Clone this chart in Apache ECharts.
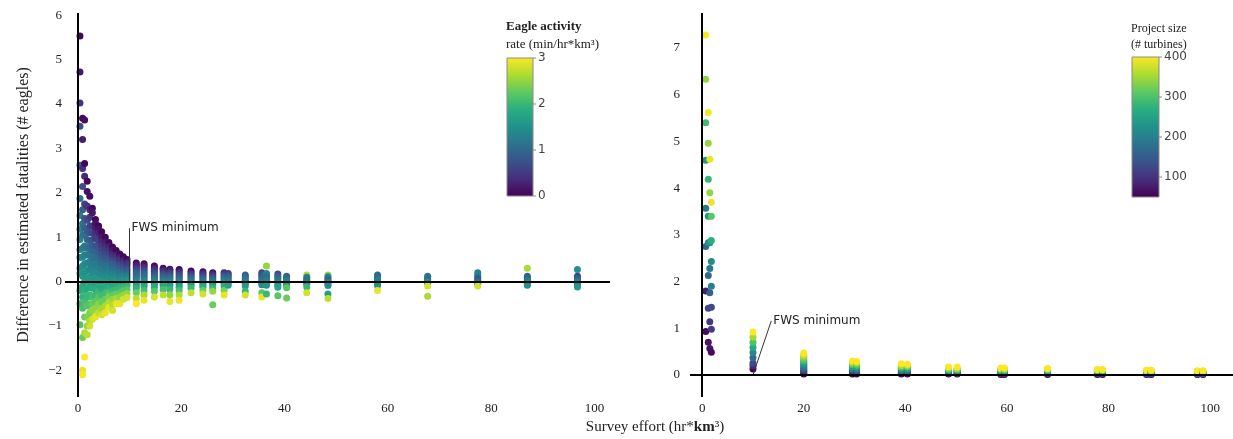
<!DOCTYPE html>
<html>
<head>
<meta charset="utf-8">
<script src="https://cdn.jsdelivr.net/npm/echarts@6/dist/echarts.min.js"></script>
<style>
  html, body { margin: 0; padding: 0; background: #fff; }
  #chart { width: 1233px; height: 439px; }
</style>
</head>
<body>
<div id="chart"></div>
<script>
// ---- left panel: survey effort vs difference, coloured by eagle activity rate
const leftEffort = [0.4, 0.9, 1.3, 1.8, 2.3, 2.8, 3.4, 4.0, 4.6, 5.3, 6.0, 6.7, 7.4, 8.1, 8.8, 9.5,
  11.3, 12.8, 14.8, 16.5, 17.8, 19.6, 21.9, 24.2, 26.1, 28.3, 29.1, 32.4, 35.6, 36.5, 38.7, 40.4,
  44.3, 48.4, 58.0, 67.7, 77.4, 87.0, 96.7]

const leftDiff = [
  [5.53, 4.72, 4.02, 3.5, 2.62, 1.87, 1.49, 1.18, 0.95, 0.72, 0.54, 0.3, 0.18, -0.2, -0.5, -0.97],
  [3.68, 3.2, 2.55, 2.14, 1.62, 1.3, 1.05, 0.75, 0.55, 0.35, 0.12, -0.1, -0.35, -0.6, -1.26, -2.0, -2.1],
  [3.64, 2.66, 2.37, 1.75, 1.42, 1.2, 1.05, 0.8, 0.6, 0.4, 0.2, 0.0, -0.2, -0.45, -0.8, -1.15, -1.7],
  [2.26, 2.03, 1.7, 1.38, 1.15, 0.95, 0.75, 0.6, 0.42, 0.25, 0.05, -0.15, -0.35, -0.55, -0.8, -1.0, -1.2],
  [1.92, 1.62, 1.45, 1.25, 1.1, 0.92, 0.8, 0.62, 0.45, 0.28, 0.1, -0.1, -0.3, -0.5, -0.7, -0.88, -1.0],
  [1.65, 1.55, 1.25, 1.1, 0.95, 0.8, 0.7, 0.52, 0.35, 0.2, 0.05, -0.15, -0.35, -0.5, -0.65, -0.85],
  [1.4, 1.3, 1.2, 1.08, 0.98, 0.8, 0.68, 0.55, 0.4, 0.25, 0.1, -0.05, -0.18, -0.3, -0.45, -0.6, -0.8],
  [1.25, 1.18, 1.1, 0.9, 0.78, 0.65, 0.52, 0.42, 0.3, 0.2, 0.05, -0.1, -0.22, -0.35, -0.5, -0.7],
  [1.12, 1.0, 0.9, 0.8, 0.7, 0.6, 0.5, 0.4, 0.28, 0.15, 0.02, -0.15, -0.3, -0.45, -0.6, -0.75],
  [1.0, 0.88, 0.8, 0.72, 0.62, 0.55, 0.45, 0.35, 0.22, 0.12, 0.0, -0.1, -0.25, -0.4, -0.55, -0.7],
  [0.88, 0.78, 0.7, 0.62, 0.52, 0.45, 0.36, 0.28, 0.18, 0.08, -0.04, -0.15, -0.25, -0.35, -0.47, -0.58],
  [0.78, 0.7, 0.62, 0.55, 0.47, 0.4, 0.3, 0.22, 0.14, 0.05, -0.07, -0.2, -0.3, -0.4, -0.52, -0.65],
  [0.7, 0.6, 0.54, 0.48, 0.42, 0.35, 0.28, 0.2, 0.12, 0.02, -0.08, -0.18, -0.28, -0.38, -0.5],
  [0.62, 0.55, 0.5, 0.45, 0.38, 0.3, 0.22, 0.15, 0.08, 0.0, -0.08, -0.15, -0.25, -0.35, -0.5],
  [0.56, 0.48, 0.43, 0.38, 0.32, 0.26, 0.19, 0.12, 0.04, -0.05, -0.12, -0.2, -0.3, -0.4],
  [0.5, 0.44, 0.4, 0.35, 0.28, 0.22, 0.16, 0.1, 0.03, -0.05, -0.1, -0.18, -0.27, -0.36],
  [0.42, 0.38, 0.34, 0.3, 0.26, 0.22, 0.18, 0.14, 0.1, 0.05, 0.0, -0.05, -0.1, -0.16, -0.25, -0.38, -0.5],
  [0.4, 0.36, 0.32, 0.28, 0.24, 0.2, 0.16, 0.12, 0.08, 0.03, -0.02, -0.07, -0.12, -0.2, -0.3, -0.42],
  [0.35, 0.31, 0.27, 0.23, 0.19, 0.15, 0.11, 0.07, 0.03, -0.02, -0.07, -0.13, -0.22, -0.35],
  [0.3, 0.27, 0.24, 0.2, 0.16, 0.12, 0.08, 0.04, 0.0, -0.05, -0.1, -0.18, -0.3],
  [0.28, 0.25, 0.21, 0.17, 0.13, 0.09, 0.05, 0.0, -0.05, -0.1, -0.18, -0.3, -0.45],
  [0.27, 0.23, 0.19, 0.15, 0.11, 0.07, 0.03, -0.02, -0.07, -0.13, -0.2, -0.3, -0.42],
  [0.24, 0.2, 0.16, 0.12, 0.08, 0.04, 0.0, -0.04, -0.09, -0.15, -0.25],
  [0.22, 0.18, 0.14, 0.1, 0.06, 0.02, -0.03, -0.08, -0.13, -0.2, -0.28],
  [0.2, 0.16, 0.12, 0.08, 0.04, 0.0, -0.04, -0.09, -0.15, -0.22, -0.52],
  [0.2, 0.16, 0.12, 0.08, 0.04, 0.0, -0.04, -0.1, -0.2, -0.3],
  [0.18, 0.13, 0.08, 0.03, -0.02, -0.08],
  [0.15, 0.11, 0.07, 0.03, -0.01, -0.05, -0.1, -0.22, -0.3],
  [0.2, 0.16, 0.12, 0.07, 0.02, -0.03, -0.07, -0.25, -0.35],
  [0.35, 0.18, 0.13, 0.08, 0.03, -0.02, -0.08, -0.28],
  [0.17, 0.12, 0.07, 0.02, -0.03, -0.08, -0.13, -0.32],
  [0.12, 0.08, 0.04, 0.0, -0.04, -0.09, -0.14, -0.37],
  [0.15, 0.1, 0.06, 0.02, -0.02, -0.06, -0.12, -0.25],
  [0.15, 0.11, 0.07, 0.03, -0.01, -0.05, -0.09, -0.28, -0.38],
  [0.15, 0.11, 0.07, 0.03, -0.01, -0.05, -0.09, -0.2],
  [0.12, 0.08, 0.04, 0.0, -0.04, -0.1, -0.33],
  [0.2, 0.15, 0.1, 0.06, 0.02, -0.02, -0.06, -0.1],
  [0.3, 0.12, 0.08, 0.04, 0.0, -0.04, -0.08],
  [0.27, 0.12, 0.08, 0.04, 0.0, -0.04, -0.08, -0.12]
]

const leftRate = [
  [0.05, 0.2, 0.45, 0.7, 0.95, 1.15, 1.3, 1.35, 1.4, 1.45, 1.5, 1.55, 1.6, 1.8, 2.0, 2.2],
  [0.05, 0.25, 0.4, 0.7, 0.9, 1.1, 1.2, 1.3, 1.4, 1.5, 1.6, 1.8, 1.95, 2.1, 2.3, 2.9, 3.0],
  [0.1, 0.05, 0.35, 0.6, 0.8, 0.95, 1.1, 1.2, 1.3, 1.4, 1.5, 1.65, 1.9, 2.1, 2.3, 2.6, 3.0],
  [0.05, 0.15, 0.45, 0.7, 0.85, 1.0, 1.15, 1.25, 1.35, 1.5, 1.6, 1.8, 2.0, 2.2, 2.4, 2.5, 2.7],
  [0.1, 0.3, 0.5, 0.65, 0.8, 0.95, 1.1, 1.2, 1.3, 1.4, 1.6, 1.8, 2.0, 2.2, 2.4, 2.6, 2.8],
  [0.05, 0.2, 0.5, 0.65, 0.8, 0.9, 1.0, 1.15, 1.3, 1.45, 1.6, 1.85, 2.1, 2.3, 2.5, 2.8],
  [0.05, 0.15, 0.25, 0.4, 0.55, 0.8, 0.95, 1.1, 1.25, 1.4, 1.55, 1.7, 1.85, 2.0, 2.25, 2.5, 2.9],
  [0.05, 0.15, 0.3, 0.6, 0.75, 0.9, 1.05, 1.2, 1.3, 1.4, 1.6, 1.8, 2.0, 2.2, 2.45, 2.7],
  [0.05, 0.2, 0.35, 0.5, 0.65, 0.8, 0.95, 1.1, 1.25, 1.4, 1.6, 1.8, 2.05, 2.3, 2.55, 2.8],
  [0.05, 0.25, 0.35, 0.5, 0.65, 0.8, 0.95, 1.1, 1.25, 1.4, 1.6, 1.8, 2.05, 2.3, 2.6, 2.9],
  [0.05, 0.3, 0.45, 0.6, 0.75, 0.9, 1.05, 1.2, 1.35, 1.5, 1.7, 1.9, 2.15, 2.4, 2.65, 2.9],
  [0.05, 0.2, 0.35, 0.5, 0.7, 0.9, 1.05, 1.2, 1.35, 1.5, 1.75, 2.0, 2.25, 2.5, 2.65, 2.8],
  [0.05, 0.3, 0.45, 0.6, 0.75, 0.9, 1.05, 1.2, 1.4, 1.6, 1.8, 2.0, 2.3, 2.6, 2.9],
  [0.05, 0.25, 0.4, 0.5, 0.7, 0.9, 1.05, 1.2, 1.35, 1.5, 1.75, 2.0, 2.25, 2.5, 2.9],
  [0.05, 0.3, 0.45, 0.6, 0.75, 0.9, 1.1, 1.3, 1.5, 1.7, 1.95, 2.2, 2.5, 2.8],
  [0.05, 0.25, 0.4, 0.55, 0.75, 0.9, 1.1, 1.3, 1.5, 1.7, 1.95, 2.2, 2.5, 2.8],
  [0.05, 0.2, 0.3, 0.45, 0.6, 0.75, 0.9, 1.0, 1.1, 1.2, 1.35, 1.5, 1.7, 1.9, 2.3, 2.7, 3.0],
  [0.05, 0.2, 0.35, 0.5, 0.65, 0.8, 0.95, 1.05, 1.15, 1.3, 1.45, 1.6, 1.8, 2.1, 2.6, 2.9],
  [0.05, 0.2, 0.35, 0.5, 0.65, 0.8, 0.95, 1.1, 1.25, 1.4, 1.6, 1.85, 2.2, 2.8],
  [0.05, 0.2, 0.35, 0.5, 0.7, 0.85, 1.0, 1.15, 1.3, 1.5, 1.75, 2.1, 2.7],
  [0.1, 0.25, 0.4, 0.6, 0.8, 0.95, 1.1, 1.3, 1.5, 1.7, 2.0, 2.5, 2.9],
  [0.05, 0.25, 0.45, 0.65, 0.8, 0.95, 1.1, 1.3, 1.5, 1.75, 2.1, 2.6, 2.9],
  [0.05, 0.3, 0.5, 0.7, 0.9, 1.05, 1.2, 1.4, 1.65, 2.0, 2.7],
  [0.1, 0.35, 0.55, 0.75, 0.95, 1.1, 1.3, 1.55, 1.85, 2.3, 2.8],
  [0.1, 0.35, 0.55, 0.75, 0.95, 1.1, 1.3, 1.6, 2.0, 2.5, 2.3],
  [0.3, 0.6, 0.85, 1.0, 1.15, 1.3, 1.5, 1.85, 2.4, 2.9],
  [0.5, 0.8, 1.0, 1.15, 1.35, 1.7],
  [0.9, 1.0, 1.1, 1.2, 1.3, 1.4, 1.6, 2.0, 2.8],
  [0.6, 0.75, 0.9, 1.0, 1.15, 1.3, 1.45, 2.2, 2.9],
  [2.5, 1.3, 1.15, 1.05, 1.2, 1.35, 1.55, 2.0],
  [0.7, 0.9, 1.05, 1.2, 1.35, 1.5, 1.75, 2.2],
  [0.9, 1.0, 1.15, 1.3, 1.4, 1.6, 2.2, 2.3],
  [2.6, 1.3, 1.2, 1.1, 1.3, 1.4, 2.0, 2.8],
  [2.5, 1.4, 1.1, 1.0, 1.2, 1.3, 1.45, 1.7, 2.7],
  [1.0, 1.05, 1.1, 1.3, 1.2, 1.4, 1.5, 2.9],
  [1.2, 1.1, 1.0, 1.4, 1.5, 2.8, 2.6],
  [1.3, 1.4, 1.1, 0.8, 1.0, 1.2, 1.5, 2.8],
  [2.6, 1.0, 0.9, 1.1, 1.2, 1.4, 1.5],
  [1.5, 0.6, 0.8, 1.0, 1.2, 1.3, 1.4, 1.6]
]

// ---- right panel: survey effort vs difference, coloured by project size
const rightEffort = [0.7, 1.2, 1.5, 1.8, 10.0, 20.0, 29.6, 30.4, 39.2, 40.4, 48.5, 50.2,
  58.8, 59.5, 68.0, 77.8, 78.8, 87.5, 88.4, 97.5, 98.6]

const rightDiff = [
  [7.28, 6.33, 5.4, 4.6, 3.57, 2.75, 1.8, 0.93],
  [5.62, 4.96, 4.19, 3.4, 2.83, 2.13, 1.43, 0.7],
  [4.62, 3.9, 2.83, 2.28, 1.76, 1.14, 0.57],
  [3.7, 3.4, 2.88, 2.43, 1.9, 1.45, 0.98, 0.49],
  [0.13, 0.2, 0.26, 0.37, 0.48, 0.59, 0.7, 0.81, 0.92],
  [0.02, 0.05, 0.08, 0.11, 0.14, 0.17, 0.2, 0.23, 0.27, 0.3, 0.33, 0.37, 0.4, 0.44, 0.47],
  [0.02, 0.06, 0.1, 0.14, 0.18, 0.22, 0.26, 0.3],
  [0.02, 0.05, 0.09, 0.13, 0.17, 0.21, 0.25, 0.29],
  [0.02, 0.05, 0.08, 0.11, 0.14, 0.17, 0.2, 0.24],
  [0.02, 0.05, 0.08, 0.11, 0.14, 0.17, 0.2, 0.23],
  [0.02, 0.04, 0.06, 0.08, 0.1, 0.12, 0.15, 0.17],
  [0.02, 0.04, 0.06, 0.08, 0.1, 0.12, 0.14, 0.17],
  [0.01, 0.03, 0.05, 0.07, 0.09, 0.11, 0.13, 0.15],
  [0.01, 0.03, 0.05, 0.07, 0.09, 0.11, 0.13, 0.15],
  [0.01, 0.03, 0.05, 0.07, 0.09, 0.11, 0.13, 0.14],
  [0.01, 0.03, 0.05, 0.07, 0.08, 0.1, 0.11, 0.12],
  [0.01, 0.03, 0.05, 0.07, 0.08, 0.1, 0.11, 0.12],
  [0.01, 0.02, 0.04, 0.05, 0.07, 0.08, 0.09, 0.1],
  [0.01, 0.02, 0.04, 0.05, 0.07, 0.08, 0.09, 0.1],
  [0.01, 0.02, 0.03, 0.05, 0.06, 0.07, 0.08, 0.09],
  [0.01, 0.02, 0.03, 0.05, 0.06, 0.07, 0.08, 0.09]
]

const rightSize = [
  [400, 340, 290, 230, 190, 170, 80, 60],
  [395, 340, 280, 240, 220, 170, 120, 70],
  [390, 340, 230, 190, 160, 110, 70],
  [390, 310, 270, 220, 200, 130, 110, 60],
  [50, 90, 130, 170, 210, 260, 300, 350, 400],
  [50, 75, 100, 125, 150, 175, 200, 225, 250, 275, 300, 325, 350, 375, 400],
  [50, 100, 150, 200, 250, 300, 350, 400],
  [50, 100, 150, 200, 250, 300, 350, 400],
  [50, 100, 150, 200, 250, 300, 350, 400],
  [50, 100, 150, 200, 250, 300, 350, 400],
  [50, 100, 150, 200, 250, 300, 350, 400],
  [50, 100, 150, 200, 250, 300, 350, 400],
  [50, 100, 150, 200, 250, 300, 350, 400],
  [50, 100, 150, 200, 250, 300, 350, 400],
  [50, 100, 150, 200, 250, 300, 350, 400],
  [50, 100, 150, 200, 250, 300, 350, 400],
  [50, 100, 150, 200, 250, 300, 350, 400],
  [50, 100, 150, 200, 250, 300, 350, 400],
  [50, 100, 150, 200, 250, 300, 350, 400],
  [50, 100, 150, 200, 250, 300, 350, 400],
  [50, 100, 150, 200, 250, 300, 350, 400]
]

const rateTicks = [0, 1, 2, 3]
const sizeTicks = [100, 200, 300, 400]
const fwsEffort = 10

const viridis = ["#440154", "#472d7b", "#3b528b", "#2c728e", "#21918c", "#28ae80", "#5ec962", "#addc30", "#fde725"]

const serif = "'Liberation Serif', 'DejaVu Serif', serif"
const sans = "'DejaVu Sans', 'Liberation Sans', sans-serif"

const buildPoints = (xs, ys, cs) => {
  const out = []
  xs.forEach((x, i) => {
    ys[i].forEach((y, j) => out.push([x, y, cs[i][j]]))
  })
  return out
}

const leftData = buildPoints(leftEffort, leftDiff, leftRate)
const rightData = buildPoints(rightEffort, rightDiff, rightSize)

const tickFmt = (v) => {
  if (Math.abs(v - Math.round(v)) > 1e-6) return ""
  return String(Math.round(v)).replace("-", "\u2212")
}
const xTickFmt = (v) => (Math.abs(v % 20) < 1e-6 ? String(v) : "")

// colorbar drawn with graphic elements
const colorbar = (left, top, w, h, min, max, ticks, titles) => {
  const els = []
  const stops = viridis.map((c, i) => ({ offset: i / (viridis.length - 1), color: c }))
  els.push({
    type: "rect",
    shape: { x: left, y: top, width: w, height: h },
    style: { fill: new echarts.graphic.LinearGradient(0, 1, 0, 0, stops), stroke: "#8a8a8a", lineWidth: 1 }
  })
  ticks.forEach((t) => {
    const y = top + (max - t) / (max - min) * h
    els.push({ type: "line", shape: { x1: left + w, y1: y, x2: left + w + 3, y2: y }, style: { stroke: "#8a8a8a", lineWidth: 1 } })
    els.push({
      type: "text", x: left + w + 5, y: y,
      style: { text: String(t), font: "12px " + sans, fill: "#444", textVerticalAlign: "middle" }
    })
  })
  titles.forEach((tt) => {
    els.push({
      type: "text", x: left - 1, y: tt.y,
      style: { text: tt.text, font: tt.font, fill: "#222", textVerticalAlign: "middle" }
    })
  })
  return els
}

const chart = echarts.init(document.getElementById("chart"))

const axisLabelStyle = { color: "#222", fontFamily: serif, fontSize: 13 }

const option = {
  animation: false,
  grid: [
    { left: 65, top: 13, width: 545, height: 384 },
    { left: 690, top: 13, width: 543, height: 384 }
  ],
  xAxis: [
    {
      gridIndex: 0, type: "value", min: -2.5, max: 103, splitNumber: 5,
      axisLine: { show: false }, axisTick: { show: false }, splitLine: { show: false },
      axisLabel: Object.assign({ margin: 5, formatter: xTickFmt, showMinLabel: false, showMaxLabel: false }, axisLabelStyle)
    },
    {
      gridIndex: 1, type: "value", min: -2.4, max: 104.5, splitNumber: 5,
      axisLine: { show: false }, axisTick: { show: false }, splitLine: { show: false },
      axisLabel: Object.assign({ margin: 5, formatter: xTickFmt, showMinLabel: false, showMaxLabel: false }, axisLabelStyle)
    }
  ],
  yAxis: [
    {
      gridIndex: 0, type: "value", min: -2.6, max: 6.05, splitNumber: 8,
      axisLine: { show: false }, axisTick: { show: false }, splitLine: { show: false },
      axisLabel: Object.assign({ margin: 3, formatter: tickFmt, showMinLabel: false, showMaxLabel: false }, axisLabelStyle),
      name: "Difference in estimated fatalities (# eagles)",
      nameLocation: "middle", nameGap: 33,
      nameTextStyle: { color: "#222", fontFamily: serif, fontSize: 16 }
    },
    {
      gridIndex: 1, type: "value", min: -0.47, max: 7.75, splitNumber: 8,
      axisLine: { show: false }, axisTick: { show: false }, splitLine: { show: false },
      axisLabel: Object.assign({ margin: 10, formatter: tickFmt, showMinLabel: false, showMaxLabel: false }, axisLabelStyle)
    }
  ],
  visualMap: [
    { type: "continuous", show: false, seriesIndex: 0, dimension: 2, min: 0, max: 3, inRange: { color: viridis } },
    { type: "continuous", show: false, seriesIndex: 1, dimension: 2, min: 50, max: 400, inRange: { color: viridis } }
  ],
  series: [
    {
      type: "scatter", xAxisIndex: 0, yAxisIndex: 0, data: leftData, symbolSize: 7,
      itemStyle: { opacity: 1 }, silent: true,
      markLine: {
        silent: true, symbol: ["none", "none"], label: { show: false },
        lineStyle: { color: "#333", width: 1, type: "solid" },
        data: [[{ coord: [fwsEffort, 0] }, { coord: [fwsEffort, 1.2] }]]
      },
      markPoint: {
        silent: true, symbol: "circle", symbolSize: 0,
        label: { show: true, position: "right", distance: 2, formatter: "FWS minimum", color: "#222", fontFamily: sans, fontSize: 12 },
        data: [{ coord: [fwsEffort, 1.2] }]
      }
    },
    {
      type: "scatter", xAxisIndex: 1, yAxisIndex: 1, data: rightData, symbolSize: 7,
      itemStyle: { opacity: 1 }, silent: true,
      markLine: {
        silent: true, symbol: ["none", "none"], label: { show: false },
        lineStyle: { color: "#333", width: 1, type: "solid" },
        data: [[{ coord: [fwsEffort, 0] }, { coord: [13.6, 1.16] }]]
      },
      markPoint: {
        silent: true, symbol: "circle", symbolSize: 0,
        label: { show: true, position: "right", distance: 2, formatter: "FWS minimum", color: "#222", fontFamily: sans, fontSize: 12 },
        data: [{ coord: [13.6, 1.16] }]
      }
    },
    {
      type: "scatter", xAxisIndex: 0, yAxisIndex: 0, data: [], z: 5,
      markLine: {
        silent: true, symbol: ["none", "none"], label: { show: false },
        lineStyle: { color: "#000", width: 2, type: "solid" },
        data: [{ yAxis: 0 }, { xAxis: 0 }]
      }
    },
    {
      type: "scatter", xAxisIndex: 1, yAxisIndex: 1, data: [], z: 5,
      markLine: {
        silent: true, symbol: ["none", "none"], label: { show: false },
        lineStyle: { color: "#000", width: 2, type: "solid" },
        data: [{ yAxis: 0 }, { xAxis: 0 }]
      }
    }
  ],
  graphic: [
    ...colorbar(507, 58, 26, 138, 0, 3, rateTicks, [
      { text: "Eagle activity", y: 27, font: "bold 13px " + serif },
      { text: "rate (min/hr*km\u00b3)", y: 45, font: "13px " + serif }
    ]),
    ...colorbar(1132, 57, 27, 140, 50, 400, sizeTicks, [
      { text: "Project size", y: 29, font: "12px " + serif },
      { text: "(# turbines)", y: 45, font: "12px " + serif }
    ]),
    {
      type: "text", x: 655, y: 427,
      style: {
        text: "{n|Survey effort (hr*}{b|km}{n|\u00b3)}",
        textAlign: "center", textVerticalAlign: "middle",
        rich: {
          n: { font: "15px " + serif, fill: "#222" },
          b: { font: "bold 15px " + serif, fill: "#222" }
        }
      }
    }
  ]
}

chart.setOption(option)
window.addEventListener("resize", () => chart.resize())
</script>
</body>
</html>
